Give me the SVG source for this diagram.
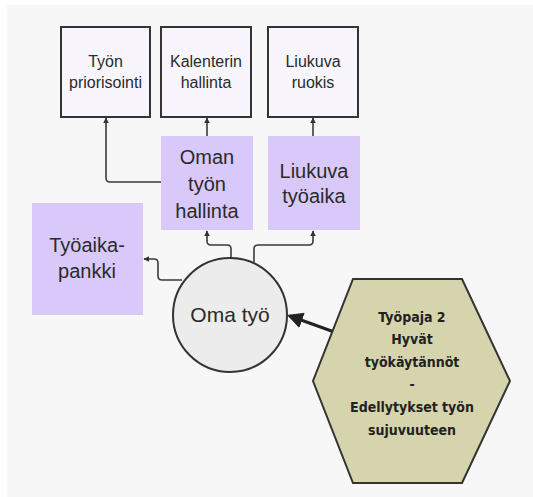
<svg xmlns="http://www.w3.org/2000/svg" width="533" height="497" viewBox="0 0 533 497">
<defs>
<style>
.box{fill:#f8f6fc;stroke:#333;stroke-width:2}
.pur{fill:#d8c9fa}
.t{font-family:"Liberation Sans",Arial,sans-serif;fill:#2a2a2a;text-anchor:middle}
.s{font-size:16px}
.l{font-size:20px}
.hx{font-family:"DejaVu Sans Condensed","DejaVu Sans",sans-serif;font-weight:bold;font-size:14px;fill:#222;text-anchor:middle}
.c{fill:none;stroke:#3a3a3a;stroke-width:1.6;stroke-linejoin:round}
</style>
<marker id="ah" viewBox="0 0 10 10" refX="9" refY="5" markerWidth="6" markerHeight="6" orient="auto" markerUnits="userSpaceOnUse">
<path d="M0,0 L10,5 L0,10 z" fill="#333"/>
</marker>
<marker id="ahb" viewBox="0 0 10 10" refX="8" refY="5" markerWidth="16" markerHeight="16" orient="auto" markerUnits="userSpaceOnUse">
<path d="M0,0 L10,5 L0,10 z" fill="#222"/>
</marker>
</defs>
<rect x="0" y="0" width="533" height="497" fill="#ffffff"/>
<rect x="7" y="5" width="526" height="492" fill="#f7f7f7"/>

<g id="connectors">
<path class="c" d="M161,182 H110 Q106,182 106,178 V118" marker-end="url(#ah)"/>
<path class="c" d="M207,136 V118" marker-end="url(#ah)"/>
<path class="c" d="M313,136 V118" marker-end="url(#ah)"/>
<path class="c" d="M231,258 V249 Q231,245 227,245 H211 Q207,245 207,241 V231" marker-end="url(#ah)"/>
<path class="c" d="M254,262 V249 Q254,245 258,245 H309 Q313,245 313,241 V231" marker-end="url(#ah)"/>
<path class="c" d="M182,280 H162 Q158,280 158,276 V263 Q158,259 154,259 H144" marker-end="url(#ah)"/>
<path d="M337,333 L290,316" fill="none" stroke="#222" stroke-width="3" marker-end="url(#ahb)"/>
</g>

<g id="tyon-priorisointi">
<rect class="box" x="61" y="27" width="89" height="90"/>
<text class="t s" x="105.5" y="67">Työn</text>
<text class="t s" x="105.5" y="88">priorisointi</text>
</g>
<g id="kalenterin-hallinta">
<rect class="box" x="161" y="27" width="90" height="90"/>
<text class="t s" x="206" y="67">Kalenterin</text>
<text class="t s" x="206" y="88">hallinta</text>
</g>
<g id="liukuva-ruokis">
<rect class="box" x="268" y="27" width="90" height="90"/>
<text class="t s" x="313" y="67">Liukuva</text>
<text class="t s" x="313" y="88">ruokis</text>
</g>
<g id="oman-tyon-hallinta">
<rect class="pur" x="161" y="136" width="92" height="94"/>
<text class="t l" x="207" y="164">Oman</text>
<text class="t l" x="207" y="191">työn</text>
<text class="t l" x="207" y="218">hallinta</text>
</g>
<g id="liukuva-tyoaika">
<rect class="pur" x="268" y="136" width="92" height="94"/>
<text class="t l" x="314" y="178">Liukuva</text>
<text class="t l" x="314" y="203">työaika</text>
</g>
<g id="tyoaika-pankki">
<rect class="pur" x="32" y="203" width="111" height="112"/>
<text class="t l" x="87" y="252">Työaika-</text>
<text class="t l" x="87" y="278">pankki</text>
</g>
<g id="oma-tyo">
<circle cx="230" cy="315" r="57" fill="#ececec" stroke="#333" stroke-width="2"/>
<text class="t" x="230" y="322" style="font-size:21px">Oma työ</text>
</g>
<g id="tyopaja">
<polygon points="353,279 462,279 510,381 462,483 353,483 313,381" fill="#d6d4ad" stroke="#333" stroke-width="2"/>
<text class="hx" x="412" y="322">Työpaja 2</text>
<text class="hx" x="412" y="344">Hyvät</text>
<text class="hx" x="412" y="367">työkäytännöt</text>
<text class="hx" x="412" y="389">-</text>
<text class="hx" x="412" y="412">Edellytykset työn</text>
<text class="hx" x="412" y="435">sujuvuuteen</text>
</g>
</svg>
